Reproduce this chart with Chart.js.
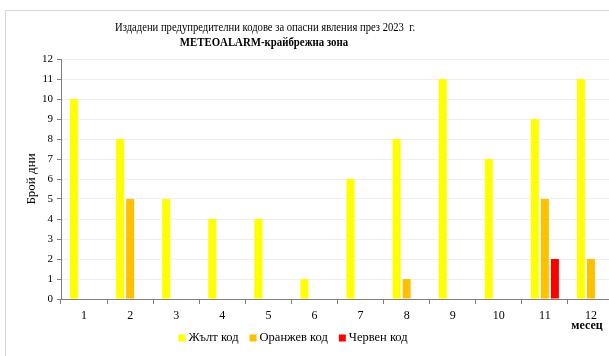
<!DOCTYPE html>
<html>
<head>
<meta charset="utf-8">
<script src="https://cdn.jsdelivr.net/npm/chart.js@4.4.1/dist/chart.umd.min.js"></script>
<style>
  html, body { margin: 0; padding: 0; background: #fff; overflow: hidden; }
  #wrap { position: absolute; left: 0; top: 0; width: 620px; height: 356px; }
</style>
</head>
<body>
<div id="wrap"><canvas id="c" width="620" height="356"></canvas></div>
<script>
// Months of 2023
const months = ['1', '2', '3', '4', '5', '6', '7', '8', '9', '10', '11', '12'];
// Days with issued warnings per colour code
const yellowDays = [10, 8, 5, 4, 4, 1, 6, 8, 11, 7, 9, 11];
const orangeDays = [0, 5, 0, 0, 0, 0, 0, 1, 0, 0, 5, 2];
const redDays    = [0, 0, 0, 0, 0, 0, 0, 0, 0, 0, 2, 0];
// Y axis range
const yMin = 0, yMax = 12, yStep = 1;

const titleLine1 = 'Издадени предупредителни кодове за опасни явления през 2023  г.';
const titleLine2 = 'METEOALARM-крайбрежна зона';
const yTitle = 'Брой дни';
const xTitle = 'месец';
const seriesNames = ['Жълт код', 'Оранжев код', 'Червен код'];
const seriesColors = ['#FFFF00', '#FFC000', '#FF0000'];

const SERIF = "'Liberation Serif', 'Times New Roman', serif";

// Draws text horizontally condensed around a centre point
function condensedText(ctx, text, cx, cy, squeeze) {
  ctx.save();
  ctx.translate(cx, cy);
  ctx.scale(squeeze, 1);
  ctx.textAlign = 'center';
  ctx.fillText(text, 0, 0);
  ctx.restore();
}

// Frame, titles, axis captions and legend
const decorations = {
  id: 'decorations',
  beforeDraw(chart) {
    const ctx = chart.ctx;
    ctx.save();
    ctx.strokeStyle = '#d9d9d9';
    ctx.lineWidth = 1;
    ctx.strokeRect(5.5, 10.5, 700, 400);
    ctx.restore();
  },
  afterDraw(chart) {
    const ctx = chart.ctx;
    const area = chart.chartArea;
    ctx.save();
    ctx.fillStyle = '#000';
    ctx.textBaseline = 'middle';

    ctx.font = '12.5px ' + SERIF;
    condensedText(ctx, titleLine1, 265, 28, 0.85);
    ctx.font = 'bold 12.5px ' + SERIF;
    condensedText(ctx, titleLine2, 264, 43, 0.865);

    // y axis title
    ctx.save();
    ctx.translate(32, (area.top + area.bottom) / 2);
    ctx.rotate(-Math.PI / 2);
    ctx.textAlign = 'center';
    ctx.font = '13px ' + SERIF;
    ctx.fillText(yTitle, 0, 0);
    ctx.restore();

    // x axis title
    ctx.textAlign = 'center';
    ctx.font = 'bold 12px ' + SERIF;
    ctx.fillText(xTitle, 587, 326);

    // legend
    ctx.font = '12.5px ' + SERIF;
    ctx.textAlign = 'left';
    const box = 7, gapBoxText = 3, gapItems = 11;
    let total = 0;
    const widths = seriesNames.map(n => ctx.measureText(n).width);
    widths.forEach(w => { total += box + gapBoxText + w; });
    total += gapItems * (seriesNames.length - 1);
    let x = 293 - total / 2;
    const ly = 338;
    seriesNames.forEach((name, i) => {
      ctx.fillStyle = seriesColors[i];
      ctx.fillRect(x, ly - 3.5, box, box);
      ctx.fillStyle = '#000';
      ctx.fillText(name, x + box + gapBoxText, ly);
      x += box + gapBoxText + widths[i] + gapItems;
    });
    ctx.restore();
  }
};

const datasets = [yellowDays, orangeDays, redDays].map((values, i) => ({
  label: seriesNames[i],
  data: values,
  backgroundColor: seriesColors[i],
  borderWidth: 0,
  categoryPercentage: 0.652,
  barPercentage: 0.8
}));

new Chart(document.getElementById('c'), {
  type: 'bar',
  data: { labels: months, datasets },
  plugins: [decorations],
  options: {
    responsive: false,
    animation: false,
    events: [],
    layout: { padding: { top: 59, left: 0, right: 6, bottom: 0 } },
    plugins: {
      legend: { display: false },
      title: { display: false },
      tooltip: { enabled: false }
    },
    scales: {
      x: {
        afterFit(s) { s.height = 57; },
        grid: {
          display: true,
          drawOnChartArea: false,
          drawTicks: true,
          tickLength: 5,
          tickColor: '#808080',
          offset: true
        },
        border: { color: '#808080', width: 1 },
        ticks: {
          color: '#000',
          padding: 5,
          maxRotation: 0,
          font: { family: SERIF, size: 12 }
        }
      },
      y: {
        min: yMin,
        max: yMax,
        afterFit(s) { s.width = 61; },
        grid: {
          color: '#efefef',
          tickColor: '#808080',
          tickLength: 4,
          drawTicks: true
        },
        border: { color: '#808080', width: 1 },
        ticks: {
          stepSize: yStep,
          color: '#000',
          padding: 4,
          font: { family: SERIF, size: 11 }
        }
      }
    }
  }
});
</script>
</body>
</html>
